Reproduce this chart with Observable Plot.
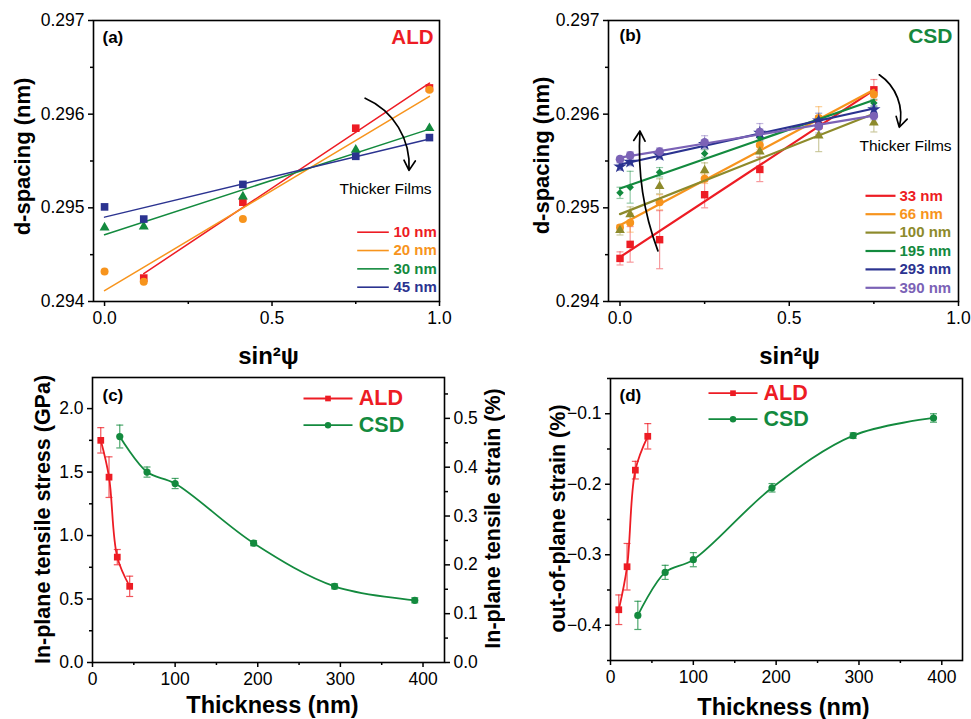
<!DOCTYPE html>
<html>
<head>
<meta charset="utf-8">
<script src="https://cdn.jsdelivr.net/npm/d3@7"></script>
<script src="https://cdn.jsdelivr.net/npm/@observablehq/plot@0.6"></script>
<style>
  body { margin: 0; background: #fff; }
  #fig { position: relative; width: 971px; height: 719px; overflow: hidden; background: #fff; }
  #fig > svg { position: absolute; }
</style>
</head>
<body>
<div id="fig"></div>
<script>
// ---------- (a) ALD films: d-spacing vs sin²ψ ----------
const psiA = [0, 0.117, 0.413, 0.75, 0.970];
const ald10 = [null, 0.29425, 0.29506, 0.29585, 0.29628];
const ald20 = [0.29432, 0.29421, 0.29488, null, 0.29626];
const ald30 = [0.29479, 0.29480, 0.29512, 0.29562, 0.29585];
const ald45 = [0.29501, 0.29488, 0.29525, 0.29555, 0.29575];
const aldLabels = ["10 nm", "20 nm", "30 nm", "45 nm"];

// ---------- (b) CSD films: d-spacing vs sin²ψ, with error bars ----------
const psiB = [0, 0.03, 0.117, 0.25, 0.413, 0.587, 0.75];
const csd33 = [0.29446, 0.29461, 0.29466, 0.29514, 0.29541, 0.29588, 0.29626];
const csd66 = [0.29479, 0.29484, 0.29506, 0.29531, 0.29567, 0.29596, 0.29621];
const csd100 = [0.29476, 0.29493, 0.29523, 0.29540, 0.29560, 0.29577, 0.29591];
const csd195 = [0.29516, 0.29522, 0.29538, 0.29558, 0.29575, 0.29594, 0.29612];
const csd293 = [0.29544, 0.29549, 0.29556, 0.29568, 0.29580, 0.29593, 0.29605];
const csd390 = [0.29552, 0.29556, 0.29560, 0.29570, 0.29581, 0.29587, 0.29598];
const err33 = [0.00007, 0.00019, 0.00031, 0.00014, 0.00013, 0.00010, 0.00011];
const err66 = [0.00003, 0.00010, 0.00008, 0.00005, 0.00005, 0.00012, 0.00006];
const err100 = [0.00005, 0.00008, 0.00008, 0.00008, 0.00006, 0.00017, 0.00010];
const err195 = [0.00006, 0.00017, 0.00005, 0.00004, 0.00004, 0.00004, 0.00004];
const err293 = [0.00004, 0.00004, 0.00004, 0.00004, 0.00004, 0.00008, 0.00004];
const err390 = [0.00003, 0.00004, 0.00004, 0.00007, 0.00009, 0.00007, 0.00004];
const csdLabels = ["33 nm", "66 nm", "100 nm", "195 nm", "293 nm", "390 nm"];

// ---------- (c) in-plane stress and (d) out-of-plane strain vs thickness ----------
const thickALD = [10, 20, 30, 45];
const stressALD = [1.75, 1.46, 0.83, 0.60];
const stressALDErr = [0.10, 0.16, 0.06, 0.08];
const thickCSD = [33, 66, 100, 195, 293, 390];
const stressCSD = [1.78, 1.50, 1.41, 0.94, 0.60, 0.49];
const stressCSDErr = [0.09, 0.04, 0.04, 0.02, 0.02, 0.02];
const outStrainALD = [-0.378, -0.317, -0.180, -0.132];
const outStrainALDErr = [0.021, 0.033, 0.0125, 0.018];
const outStrainCSD = [-0.386, -0.325, -0.307, -0.205, -0.131, -0.106];
const outStrainCSDErr = [0.020, 0.010, 0.010, 0.006, 0.004, 0.006];
const strainPerGPa = 0.26; // in-plane strain (%) per GPa of stress, right axis of (c)

// Tick values
const psiTicks = [0, 0.5, 1.0], psiMinor = [0.25, 0.75];
const dTicks = [0.294, 0.295, 0.296, 0.297], dMinor = [0.2945, 0.2955, 0.2965];
const thickTicks = [0, 100, 200, 300, 400], thickMinor = [50, 150, 250, 350];
const stressTicks = [0, 0.5, 1.0, 1.5, 2.0], stressMinor = [0.25, 0.75, 1.25, 1.75];
const strainTicks = [0, 0.1, 0.2, 0.3, 0.4, 0.5], strainMinor = [0.05, 0.15, 0.25, 0.35, 0.45, 0.55];
const outTicks = [-0.4, -0.3, -0.2, -0.1], outMinor = [-0.45, -0.35, -0.25, -0.15, -0.05];

// "Thicker Films" arrows (data units of each panel)
const arrowsA = [{x1: 0.778, y1: 0.29617, x2: 0.909, y2: 0.29540}];
const arrowsBRight = [{x1: 0.766, y1: 0.29642, x2: 0.825, y2: 0.29586}];
const arrowsBLeft = [{x1: 0.112, y1: 0.29454, x2: 0.059, y2: 0.29582}];

// ---------- styling ----------
const FONT = '"Liberation Sans", Arial, Helvetica, sans-serif';
const RED = "#ed1c24", ORANGE = "#f7941d", GREEN = "#138a3e", OLIVE = "#8d8a2b",
      NAVY = "#2b3390", PURPLE = "#7b62b6", CSDGREEN = "#16873d";
const base = {fontFamily: FONT, fontSize: "17.5px", color: "black", background: "white", overflow: "visible"};

const rows = (xs, ys, es) => xs.map((x, i) => ({x, y: ys[i], e: es ? es[i] : 0})).filter(d => d.y != null);
// horizontal bar glyph used for error-bar caps and legend lines
const bar = (w) => ({draw(ctx) { ctx.moveTo(-w, 0); ctx.lineTo(w, 0); }});

function axes({xT, xM, yT, yM, xFmt, yFmt}) {
  return [
    Plot.axisX({ticks: xT, tickSize: 5, tickPadding: 5, tickFormat: xFmt, label: null, strokeWidth: 1.5}),
    Plot.axisX({ticks: xM, tickSize: 3, tickFormat: () => "", label: null, strokeWidth: 1.5}),
    Plot.axisY({ticks: yT, tickSize: 5, tickPadding: 4, tickFormat: yFmt, label: null, strokeWidth: 1.5}),
    Plot.axisY({ticks: yM, tickSize: 3, tickFormat: () => "", label: null, strokeWidth: 1.5})
  ];
}

function errorBars(data, color, opacity, cap = 3.5) {
  return [
    Plot.ruleX(data, {x: "x", y1: d => d.y - d.e, y2: d => d.y + d.e, stroke: color, strokeOpacity: opacity, strokeWidth: 1.2}),
    Plot.dot(data, {x: "x", y: d => d.y - d.e, symbol: bar(cap), fill: "none", stroke: color, strokeOpacity: opacity, strokeWidth: 1.2}),
    Plot.dot(data, {x: "x", y: d => d.y + d.e, symbol: bar(cap), fill: "none", stroke: color, strokeOpacity: opacity, strokeWidth: 1.2})
  ];
}

function label(text, dx, dy, opts = {}) {
  return Plot.text([text], {text: d => d, frameAnchor: "top-left", dx, dy, textAnchor: "start", lineAnchor: "middle", ...opts});
}

// legend row: line, optional marker, colored label
function legendRow(text, color, lx, halfLen, tx, dy, fontSize, lineWidth, symbol, r) {
  const marks = [
    Plot.dot([0], {frameAnchor: "top-left", dx: lx, dy, symbol: bar(halfLen), fill: "none", stroke: color, strokeWidth: lineWidth})
  ];
  if (symbol) marks.push(Plot.dot([0], {frameAnchor: "top-left", dx: lx, dy, symbol, r, fill: color, stroke: "none"}));
  marks.push(label(text, tx, dy, {fill: color, fontWeight: "bold", fontSize}));
  return marks;
}

const fmt1 = d3.format(".1f"), fmt3 = d3.format(".3f");

// ---------- panel (a) ----------
const seriesA = [ald10, ald20, ald30, ald45];
const colorsA = [RED, ORANGE, GREEN, NAVY];
const symbolsA = ["square", "circle", "triangle", "square"];
const radiiA = [4.3, 4, 3.7, 4.3];

const plotA = Plot.plot({
  width: 490, height: 370, marginLeft: 93, marginRight: 51, marginTop: 20, marginBottom: 69,
  style: base,
  x: {domain: [-0.033, 1.0], label: null},
  y: {domain: [0.294, 0.297], label: null},
  marks: [
    ...axes({xT: psiTicks, xM: psiMinor, yT: dTicks, yM: dMinor, xFmt: fmt1, yFmt: fmt3}),
    ...seriesA.flatMap((s, i) => {
      const data = rows(psiA, s);
      return [
        Plot.linearRegressionY(data, {x: "x", y: "y", stroke: colorsA[i], strokeWidth: 1.5, ci: 0}),
        Plot.dot(data, {x: "x", y: "y", symbol: symbolsA[i], r: radiiA[i], fill: colorsA[i], stroke: "none"})
      ];
    }),
    Plot.arrow(arrowsA, {x1: "x1", y1: "y1", x2: "x2", y2: "y2", bend: 35, stroke: "black", strokeWidth: 1.7, headLength: 10}),
    label("Thicker Films", 292, 169, {textAnchor: "middle", fontSize: 15.5}),
    label("(a)", 9, 16.7, {fontWeight: "bold", fontSize: 17}),
    label("ALD", 340, 16.7, {textAnchor: "end", fontWeight: "bold", fontSize: 20.5, fill: RED}),
    ...aldLabels.flatMap((t, i) => legendRow(t, colorsA[i], 279.5, 15.8, 300, 211.7 + i * 18.33, 15, 1.6)),
    label("d-spacing (nm)", -71, 136, {textAnchor: "middle", rotate: -90, fontWeight: "bold", fontSize: 22}),
    label("sin²ψ", 175, 336, {textAnchor: "middle", fontWeight: "bold", fontSize: 24}),
    Plot.frame({stroke: "black", strokeWidth: 1.6})
  ]
});

// ---------- panel (b) ----------
const seriesB = [csd33, csd66, csd100, csd195, csd293, csd390];
const errorsB = [err33, err66, err100, err195, err293, err390];
const colorsB = [RED, ORANGE, OLIVE, GREEN, NAVY, PURPLE];
const symbolsB = ["square", "circle", "triangle", "diamond2", "star", "circle"];
const radiiB = [4.2, 4, 3.6, 3.4, 4.2, 4.3];

const plotB = Plot.plot({
  width: 481, height: 370, marginLeft: 118, marginRight: 13, marginTop: 20, marginBottom: 69,
  style: base,
  x: {domain: [-0.034, 1.0], label: null},
  y: {domain: [0.294, 0.297], label: null},
  marks: [
    ...axes({xT: psiTicks, xM: psiMinor, yT: dTicks, yM: dMinor, xFmt: fmt1, yFmt: fmt3}),
    ...seriesB.flatMap((s, i) => errorBars(rows(psiB, s, errorsB[i]), colorsB[i], 0.45)),
    ...seriesB.flatMap((s, i) => {
      const data = rows(psiB, s, errorsB[i]);
      return [
        Plot.linearRegressionY(data, {x: "x", y: "y", stroke: colorsB[i], strokeWidth: 2.2, ci: 0}),
        Plot.dot(data, {x: "x", y: "y", symbol: symbolsB[i], r: radiiB[i], fill: colorsB[i], stroke: "none"})
      ];
    }),
    Plot.arrow(arrowsBRight, {x1: "x1", y1: "y1", x2: "x2", y2: "y2", bend: 35, stroke: "black", strokeWidth: 1.7, headLength: 10}),
    Plot.arrow(arrowsBLeft, {x1: "x1", y1: "y1", x2: "x2", y2: "y2", bend: 12, stroke: "black", strokeWidth: 1.7, headLength: 10}),
    label("Thicker Films", 297, 126, {textAnchor: "middle", fontSize: 15.5}),
    label("(b)", 11, 15.3, {fontWeight: "bold", fontSize: 17}),
    label("CSD", 344, 15.3, {textAnchor: "end", fontWeight: "bold", fontSize: 21, fill: CSDGREEN}),
    ...csdLabels.flatMap((t, i) => legendRow(t, colorsB[i], 272, 15, 291, 175.3 + i * 18.4, 15, 2.2)),
    label("d-spacing (nm)", -67, 135, {textAnchor: "middle", rotate: -90, fontWeight: "bold", fontSize: 22}),
    label("sin²ψ", 181, 336, {textAnchor: "middle", fontWeight: "bold", fontSize: 24}),
    Plot.frame({stroke: "black", strokeWidth: 1.6})
  ]
});

// ---------- panel (c) ----------
const cALD = rows(thickALD, stressALD, stressALDErr);
const cCSD = rows(thickCSD, stressCSD, stressCSDErr);
const plotC = Plot.plot({
  width: 505, height: 349, marginLeft: 92, marginRight: 61, marginTop: 7, marginBottom: 57,
  style: base,
  x: {domain: [0, 426], label: null},
  y: {domain: [0, 2.245], label: null},
  marks: [
    ...axes({xT: thickTicks, xM: thickMinor, yT: stressTicks, yM: stressMinor, xFmt: d3.format("d"), yFmt: fmt1}),
    Plot.axisY({anchor: "right", ticks: strainTicks.map(v => v / strainPerGPa), tickSize: 5, tickPadding: 4,
      tickFormat: v => fmt1(v * strainPerGPa), label: null, strokeWidth: 1.5}),
    Plot.axisY({anchor: "right", ticks: strainMinor.map(v => v / strainPerGPa), tickSize: 3, tickFormat: () => "", label: null, strokeWidth: 1.5}),
    ...errorBars(cALD, RED, 0.75),
    ...errorBars(cCSD, GREEN, 0.75),
    Plot.line(cALD, {x: "x", y: "y", stroke: RED, strokeWidth: 1.8, curve: "catmull-rom"}),
    Plot.line(cCSD, {x: "x", y: "y", stroke: GREEN, strokeWidth: 1.8, curve: "catmull-rom"}),
    Plot.dot(cALD, {x: "x", y: "y", symbol: "square", r: 3.8, fill: RED}),
    Plot.dot(cCSD, {x: "x", y: "y", symbol: "circle", r: 3.6, fill: GREEN}),
    ...legendRow("ALD", RED, 235.5, 24.5, 266.3, 21, 21.5, 1.8, "square", 3.2),
    ...legendRow("CSD", GREEN, 235.5, 24.5, 266.3, 47.7, 21.5, 1.8, "circle", 3.2),
    label("(c)", 10, 17.7, {fontWeight: "bold", fontSize: 17}),
    label("In-plane tensile stress (GPa)", -49, 142, {textAnchor: "middle", rotate: -90, fontWeight: "bold", fontSize: 21.5}),
    label("In-plane tensile strain (%)", 401, 141, {textAnchor: "middle", rotate: -90, fontWeight: "bold", fontSize: 21.5}),
    label("Thickness (nm)", 180, 327.5, {textAnchor: "middle", fontWeight: "bold", fontSize: 23.5}),
    Plot.frame({stroke: "black", strokeWidth: 1.6})
  ]
});

// ---------- panel (d) ----------
const dALD = rows(thickALD, outStrainALD, outStrainALDErr);
const dCSD = rows(thickCSD, outStrainCSD, outStrainCSDErr);
const plotD = Plot.plot({
  width: 466, height: 349, marginLeft: 105, marginRight: 9, marginTop: 8, marginBottom: 59,
  style: base,
  x: {domain: [0, 425], label: null},
  y: {domain: [-0.45, -0.05], label: null},
  marks: [
    ...axes({xT: thickTicks, xM: thickMinor, yT: outTicks, yM: outMinor, xFmt: d3.format("d"), yFmt: fmt1}),
    ...errorBars(dALD, RED, 0.75),
    ...errorBars(dCSD, GREEN, 0.75),
    Plot.line(dALD, {x: "x", y: "y", stroke: RED, strokeWidth: 1.8, curve: "catmull-rom"}),
    Plot.line(dCSD, {x: "x", y: "y", stroke: GREEN, strokeWidth: 1.8, curve: "catmull-rom"}),
    Plot.dot(dALD, {x: "x", y: "y", symbol: "square", r: 3.8, fill: RED}),
    Plot.dot(dCSD, {x: "x", y: "y", symbol: "circle", r: 3.6, fill: GREEN}),
    ...legendRow("ALD", RED, 122.5, 24.5, 153, 14.7, 21.5, 1.8, "square", 3.2),
    ...legendRow("CSD", GREEN, 122.5, 24.5, 153, 40.7, 21.5, 1.8, "circle", 3.2),
    label("(d)", 9, 16.7, {fontWeight: "bold", fontSize: 17}),
    label("out-of-plane strain (%)", -52, 140, {textAnchor: "middle", rotate: -90, fontWeight: "bold", fontSize: 21.5}),
    label("Thickness (nm)", 173, 328.5, {textAnchor: "middle", fontWeight: "bold", fontSize: 23.5}),
    Plot.frame({stroke: "black", strokeWidth: 1.6})
  ]
});

const fig = document.getElementById("fig");
[[plotA, 0, 0], [plotB, 490, 0], [plotC, 0, 370], [plotD, 505, 370]].forEach(([svg, left, top]) => {
  svg.style.left = left + "px";
  svg.style.top = top + "px";
  fig.appendChild(svg);
});
</script>
</body>
</html>
